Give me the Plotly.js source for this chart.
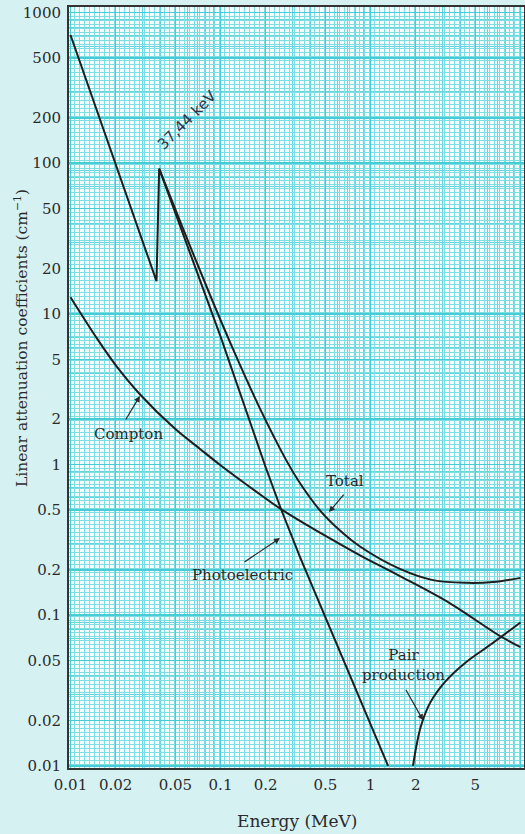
<!DOCTYPE html>
<html>
<head>
<meta charset="utf-8">
<script src="https://cdn.plot.ly/plotly-3.0.1.min.js"></script>
<style>
  html, body { margin: 0; padding: 0; background: #d6f1f2; }
  #chart { width: 525px; height: 834px; }
</style>
</head>
<body>
<div id="chart"></div>
<script>
// Linear attenuation coefficients (cm^-1) against photon energy (MeV)

// Photoelectric absorption, with the K-edge jump
const photoEnergy = [0.01, 0.03744, 0.039, 0.056, 0.1, 0.2, 0.253, 0.339, 0.5, 0.8, 1.0, 1.31];
const photoMu     = [710, 16.5, 92, 34.5, 7.1, 0.96, 0.507, 0.243, 0.097, 0.0318, 0.0188, 0.01];

// Compton scattering
const comptonEnergy = [0.01, 0.015, 0.02, 0.029, 0.05, 0.073, 0.1, 0.183, 0.253, 0.46, 0.851, 1.57, 3.39, 7.3, 10];
const comptonMu     = [12.9, 6.88, 4.57, 2.93, 1.72, 1.27, 0.99, 0.635, 0.506, 0.353, 0.25, 0.182, 0.12, 0.0728, 0.0615];

// Pair production
const pairEnergy = [1.92, 2.01, 2.17, 2.49, 3.14, 4.27, 6.26, 10];
const pairMu     = [0.01, 0.0131, 0.0184, 0.0261, 0.0361, 0.0482, 0.0634, 0.0895];

// Total attenuation above the K-edge
const totalEnergy = [0.039, 0.056, 0.085, 0.121, 0.183, 0.277, 0.339, 0.46, 0.626, 0.851, 1.57, 2.61, 4.4, 6.56, 10];
const totalMu     = [92, 37.2, 13.4, 5.86, 2.36, 1.05, 0.752, 0.497, 0.365, 0.286, 0.203, 0.171, 0.164, 0.166, 0.177];

// Tick labels
const xTickVals = [0.01, 0.02, 0.05, 0.1, 0.2, 0.5, 1, 2, 5, 10];
const xTickText = ['0.01', '0.02', '0.05', '0.1', '0.2', '0.5', '1', '2', '5', '10'];
const yTickVals = [0.01, 0.02, 0.05, 0.1, 0.2, 0.5, 1, 2, 5, 10, 20, 50, 100, 200, 500, 1000];
const yTickText = ['0.01', '0.02', '0.05', '0.1', '0.2', '0.5', '1', '2', '5', '10', '20', '50', '100', '200', '500', '1000'];

// Curve labels and their arrow tips
const labelText   = ['Compton', 'Photoelectric', 'Total', 'Pair<br>production'];
const labelEnergy = [0.0245, 0.141, 0.676, 1.67];
const labelMu     = [1.6, 0.185, 0.778, 0.0467];
const arrowEnergy = [0.029, 0.249, 0.529, 2.24];
const arrowMu     = [2.85, 0.325, 0.484, 0.0201];
const arrowDx     = [-15, -37, 16, -18];
const arrowDy     = [25, 25, -19, -32];

// Hand-written note at the K-edge
const edgeNote = '37,44 keV';
const edgeNoteEnergy = 0.0598;
const edgeNoteMu = 194;

// Axis titles
const xTitle = 'Energy (MeV)';
const yTitle = 'Linear attenuation coefficients (cm<sup>−1</sup>)';

const ink = '#1e1e1e';
const textInk = '#2a2a2a';
const serif = 'DejaVu Serif, Liberation Serif, serif';

function curve(x, y, shape) {
  return {
    x: x, y: y, type: 'scatter', mode: 'lines',
    line: { color: ink, width: 2, shape: shape || 'linear', smoothing: 1 },
    hoverinfo: 'skip', showlegend: false, xaxis: 'x2', yaxis: 'y2'
  };
}

const traces = [
  // empty trace that carries the fine graph-paper ruling
  { x: [], y: [], type: 'scatter', mode: 'lines', xaxis: 'x', yaxis: 'y', showlegend: false },
  curve(photoEnergy, photoMu, 'linear'),
  curve(comptonEnergy, comptonMu, 'spline'),
  curve(pairEnergy, pairMu, 'spline'),
  curve(totalEnergy, totalMu, 'spline')
];

const annotations = [];
for (let i = 0; i < labelText.length; i++) {
  annotations.push({
    xref: 'x2', yref: 'y2', x: Math.log10(labelEnergy[i]), y: Math.log10(labelMu[i]),
    text: labelText[i], showarrow: false,
    font: { family: serif, size: 15, color: textInk }
  });
  annotations.push({
    xref: 'x2', yref: 'y2', x: Math.log10(arrowEnergy[i]), y: Math.log10(arrowMu[i]),
    text: '', showarrow: true, arrowhead: 2, arrowsize: 1, arrowwidth: 1.2,
    arrowcolor: textInk, ax: arrowDx[i], ay: arrowDy[i], standoff: 0
  });
}
annotations.push({
  xref: 'x2', yref: 'y2', x: Math.log10(edgeNoteEnergy), y: Math.log10(edgeNoteMu),
  text: edgeNote, showarrow: false, textangle: -45,
  font: { family: 'DejaVu Sans, sans-serif', size: 15, color: '#2c3446' }
});
// axis titles placed beside the frame
annotations.push({
  xref: 'paper', yref: 'paper', x: 0.5, y: -0.0696, xanchor: 'center', yanchor: 'middle',
  text: xTitle, showarrow: false, font: { family: serif, size: 17, color: textInk }
});
annotations.push({
  xref: 'paper', yref: 'paper', x: -0.1055, y: 0.565, xanchor: 'center', yanchor: 'middle',
  text: yTitle, showarrow: false, textangle: -90, font: { family: serif, size: 15.5, color: textInk }
});

const fineRule = '#7fdde4';

const layout = {
  width: 525, height: 834,
  margin: { l: 69, r: 1, t: 7, b: 66 },
  paper_bgcolor: '#d6f1f2',
  plot_bgcolor: '#f3fdfd',
  showlegend: false,
  // fine uniform ruling of the graph paper (5 px across, 4 px down)
  xaxis: {
    type: 'linear', range: [0, 91], dtick: 1, showgrid: true,
    gridcolor: fineRule, gridwidth: 1, showticklabels: false, ticks: '',
    zeroline: false, showline: false, fixedrange: true
  },
  yaxis: {
    type: 'linear', range: [0, 190.25], dtick: 1, showgrid: true,
    gridcolor: fineRule, gridwidth: 1, showticklabels: false, ticks: '',
    zeroline: false, showline: false, fixedrange: true
  },
  // logarithmic axes carrying the data
  xaxis2: {
    type: 'log', overlaying: 'x', side: 'bottom', range: [-2.01, 1.0233],
    tickmode: 'array', tickvals: xTickVals, ticktext: xTickText,
    ticks: '', ticklabelstandoff: 2,
    tickfont: { family: serif, size: 15, color: textInk },
    showgrid: true, gridcolor: '#45ccd6', gridwidth: 1.5,
    minor: { dtick: 'D1', showgrid: true, gridcolor: '#62d5dd', gridwidth: 1 },
    showline: true, linecolor: '#333333', linewidth: 2, mirror: true,
    zeroline: false
  },
  yaxis2: {
    type: 'log', overlaying: 'y', side: 'left', range: [-2.014, 3.037],
    tickmode: 'array', tickvals: yTickVals, ticktext: yTickText,
    ticks: '', ticklabelstandoff: 3,
    tickfont: { family: serif, size: 15, color: textInk },
    showgrid: true, gridcolor: '#45ccd6', gridwidth: 1.5,
    minor: { dtick: 'D1', showgrid: true, gridcolor: '#62d5dd', gridwidth: 1 },
    showline: true, linecolor: '#333333', linewidth: 2, mirror: true,
    zeroline: false
  },
  annotations: annotations
};

Plotly.newPlot('chart', traces, layout, { staticPlot: true, displayModeBar: false });
</script>
</body>
</html>
